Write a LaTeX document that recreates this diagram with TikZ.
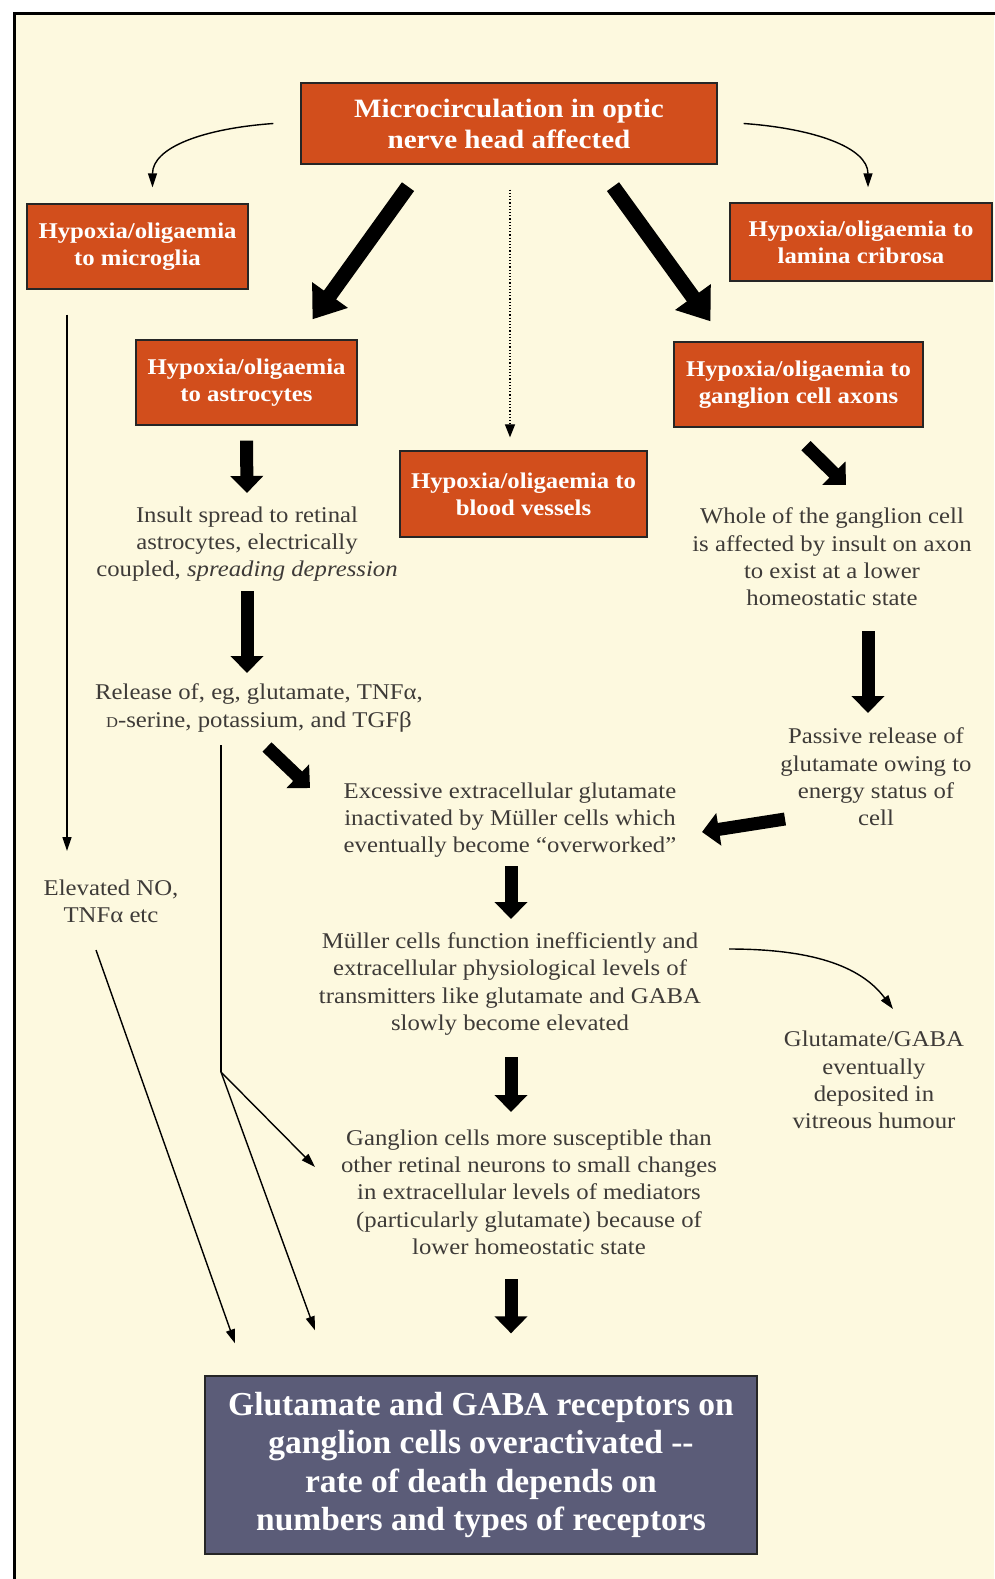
\documentclass[tikz,border=0pt]{standalone}
\usepackage{fontspec}
\setmainfont{Liberation Serif}
\newfontfamily\widefont[FakeStretch=1.1]{Liberation Serif}
\usetikzlibrary{arrows.meta}

\definecolor{cream}{RGB}{253,249,223}
\definecolor{rust}{RGB}{210,78,28}
\definecolor{slate}{RGB}{91,92,120}
\definecolor{ink}{RGB}{62,59,56}

\begin{document}
\begin{tikzpicture}[
		x=1pt, y=-1pt,
		box/.style={draw=black!85, line width=1.3pt, fill=rust, text=white, align=center, inner sep=0pt,
			font=\widefont\fontsize{22.5}{27}\selectfont\bfseries},
		txt/.style={text=ink, align=center, inner sep=0pt, font=\widefont\fontsize{22.5}{27.3}\selectfont},
		fat/.style={line width=13pt, -{Triangle[length=17pt,width=32pt]}},
		fatter/.style={line width=15pt, -{Triangle[length=30pt,width=42pt]}},
		thin/.style={line width=1.4pt, -{Triangle[length=14pt,width=9pt]}}
		]
		\useasboundingbox (0,0) rectangle (994,1579);
		\fill[white] (0,0) rectangle (994,1579);
		\fill[cream] (14,14) rectangle (994,1579);
		\draw[line width=3pt] (14,1600) -- (14,14) -- (1010,14);
		
		% boxes
		\node[box, minimum width=416pt, minimum height=81pt, font=\widefont\fontsize{26.5}{31}\selectfont\bfseries] (top) at (509,123.5)
			{Microcirculation in optic\\nerve head affected};
		\node[box, minimum width=221pt, minimum height=85pt] (microglia) at (137.5,246.5) {Hypoxia/oligaemia\\to microglia};
		\node[box, minimum width=262pt, minimum height=78pt] (lamina) at (861,242) {Hypoxia/oligaemia to\\lamina cribrosa};
		\node[box, minimum width=221pt, minimum height=85pt] (astro) at (246.5,382.5) {Hypoxia/oligaemia\\to astrocytes};
		\node[box, minimum width=249pt, minimum height=85pt] (axons) at (798.5,384.5) {Hypoxia/oligaemia to\\ganglion cell axons};
		\node[box, minimum width=247pt, minimum height=86pt] (vessels) at (523.5,494) {Hypoxia/oligaemia to\\blood vessels};
		\node[box, fill=slate, minimum width=552pt, minimum height=178pt, font=\fontsize{33.5}{38.5}\selectfont\bfseries] (receptors) at (481,1465)
			{Glutamate and GABA receptors on\\ganglion cells overactivated -{}-\\rate of death depends on\\numbers and types of receptors};
		
		% texts
		\node[txt] (insult) at (247,544) {Insult spread to retinal\\astrocytes, electrically\\coupled, \textit{spreading depression}};
		\node[txt] (release) at (259,708) {Release of, eg, glutamate, TNFα,\\{\fontsize{15}{15}\selectfont D}-serine, potassium, and TGFβ};
		\node[txt] (whole) at (832,557) {Whole of the ganglion cell\\is affected by insult on axon\\to exist at a lower\\homeostatic state};
		\node[txt] (passive) at (876,777) {Passive release of\\glutamate owing to\\energy status of\\cell};
		\node[txt] (excess) at (510,820) {Excessive extracellular glutamate\\inactivated by Müller cells which\\eventually become “overworked”};
		\node[txt] (elevated) at (111,901) {Elevated NO,\\TNFα etc};
		\node[txt] (muller) at (510,984) {Müller cells function inefficiently and\\extracellular physiological levels of\\transmitters like glutamate and GABA\\slowly become elevated};
		\node[txt] (vitreous) at (874,1080) {Glutamate/GABA\\eventually\\deposited in\\vitreous humour};
		\node[txt] (ganglion) at (529,1192) {Ganglion cells more susceptible than\\other retinal neurons to small changes\\in extracellular levels of mediators\\(particularly glutamate) because of\\lower homeostatic state};
		\coordinate (fork) at ([shift={(-38,364)}]release.center);
		
		% arrows
		\draw[thin] ([xshift=-27pt]top.west) .. controls +(-70,5) and +(0,-40) .. ([shift={(15,-16)}]microglia.north);
		\draw[thin] ([xshift=26pt]top.east) .. controls +(70,5) and +(0,-40) .. ([shift={(7,-15)}]lamina.north);
		\draw[fatter] ([shift={(-101,22)}]top.south) -- ([shift={(66,-20)}]astro.north);
		\draw[fatter] ([shift={(104,22)}]top.south) -- ([shift={(-88,-20)}]axons.north);
		\draw[line width=1.2pt, dotted, -{Triangle[length=13pt,width=10pt]}] ([shift={(1,25)}]top.south) -- ([shift={(-13.5,-13)}]vessels.north);
		\draw[thin] ([shift={(-70.5,25)}]microglia.south) -- ([shift={(-44,-50)}]elevated.center);
		\draw[fat] ([yshift=-15pt]astro.south) -- ([yshift=51pt]insult.center);
		\draw[fat] ([yshift=-47pt]insult.center) -- ([shift={(-12,-35)}]release.center);
		\draw[fat] ([shift={(7.5,18)}]axons.south) -- ([shift={(14,-72)}]whole.center);
		\draw[fat] ([shift={(36,74)}]whole.center) -- ([shift={(-8,-64)}]passive.center);
		\draw[fat] ([shift={(-91,42)}]passive.center) -- ([shift={(192,12)}]excess.center);
		\draw[fat] ([shift={(8,39)}]release.center) -- ([shift={(-200,-32)}]excess.center);
		\draw[fat] ([shift={(1,46)}]excess.center) -- ([shift={(1,-65)}]muller.center);
		\draw[thin] ([shift={(219,-35)}]muller.center) .. controls +(90,0) and +(-30,-40) .. ([shift={(19,-71)}]vitreous.center);
		\draw[fat] ([shift={(1,73)}]muller.center) -- ([shift={(-18,-80)}]ganglion.center);
		\draw[fat] ([shift={(-18,87)}]ganglion.center) -- ([shift={(30,-42)}]receptors.north);
		\draw[line width=1.4pt] ([shift={(-38,37)}]release.center) -- (fork);
		\draw[thin] (fork) -- ([shift={(-214,-25)}]ganglion.center);
		\draw[thin] (fork) -- ([shift={(-166,-45)}]receptors.north);
		\draw[thin] ([shift={(-15,49)}]elevated.center) -- ([shift={(-246,-32)}]receptors.north);
	\end{tikzpicture}
\end{document}
